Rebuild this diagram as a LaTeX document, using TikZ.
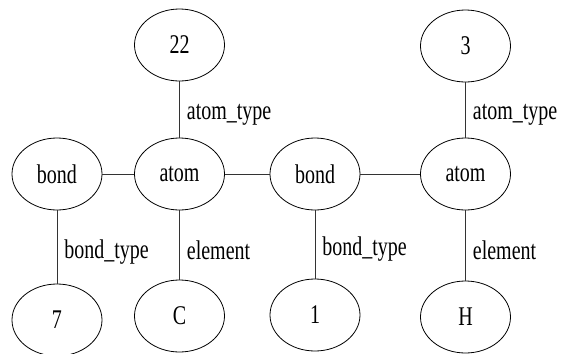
\documentclass[tikz,border=0pt]{standalone}
\usepackage{fontspec}
\usepackage{graphicx}
\setmainfont{Liberation Serif}
\usetikzlibrary{shapes.geometric}
\newcommand{\tallt}[1]{\scalebox{1}[1.35]{#1}}
\begin{document}
\begin{tikzpicture}[x=1pt,y=-1pt,
  ent/.style={draw, ellipse, minimum width=90pt, minimum height=72pt, inner sep=0pt, line width=0.8pt, font=\fontsize{20}{22}\selectfont},
  lnk/.style={line width=0.8pt, draw=black!80},
  lbl/.style={right, inner sep=2pt, xshift=5pt, yshift=-5pt, font=\fontsize{20}{22}\selectfont}]
\useasboundingbox (0,0) rectangle (566,354);
\node[ent] (t22) at (179.5,45) {\tallt{22}};
\node[ent] (t3) at (465.5,46) {\tallt{3}};
\node[ent] (bondL) at (57,174) {\tallt{bond}};
\node[ent] (atomL) at (179.5,174) {\tallt{atom}};
\node[ent] (bondM) at (315,174) {\tallt{bond}};
\node[ent] (atomR) at (465.5,174) {\tallt{atom}};
\node[ent] (n7) at (57,320) {\tallt{7}};
\node[ent] (nC) at (179.5,316) {\tallt{C}};
\node[ent] (n1) at (315,315) {\tallt{1}};
\node[ent] (nH) at (465.5,317) {\tallt{H}};
\draw[lnk] (t22) -- node[lbl]{\tallt{atom\_type}} (atomL);
\draw[lnk] (t3) -- node[lbl]{\tallt{atom\_type}} (atomR);
\draw[lnk] (bondL) -- (atomL);
\draw[lnk] (atomL) -- (bondM);
\draw[lnk] (bondM) -- (atomR);
\draw[lnk] (bondL) -- node[lbl]{\tallt{bond\_type}} (n7);
\draw[lnk] (atomL) -- node[lbl]{\tallt{element}} (nC);
\draw[lnk] (bondM) -- node[lbl]{\tallt{bond\_type}} (n1);
\draw[lnk] (atomR) -- node[lbl]{\tallt{element}} (nH);
\end{tikzpicture}
\end{document}
